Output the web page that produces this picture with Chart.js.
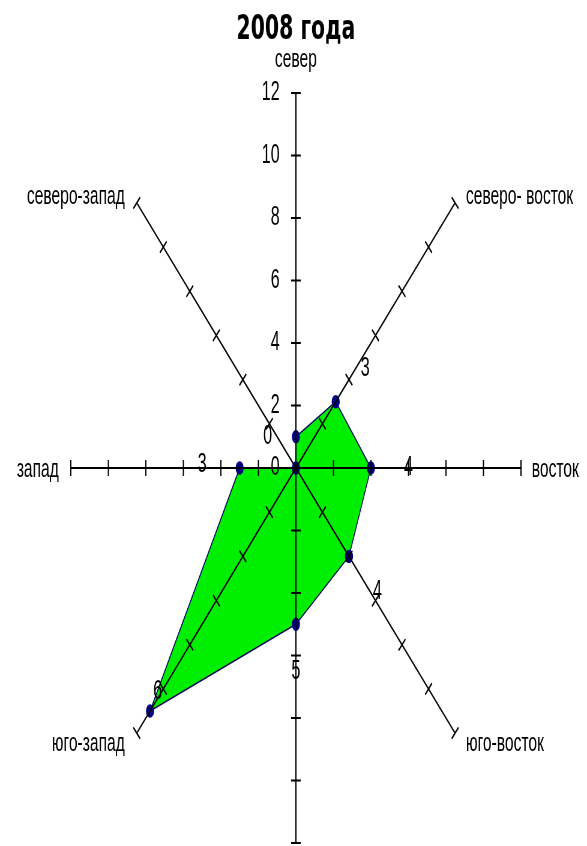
<!DOCTYPE html>
<html>
<head>
<meta charset="utf-8">
<script src="https://cdn.jsdelivr.net/npm/chart.js@4/dist/chart.umd.min.js"></script>
<style>
  html, body { margin: 0; padding: 0; background: #fff; }
  /* the source picture is squeezed horizontally, so the canvas is drawn wide and shown narrow */
  #rose { display: block; width: 587px; height: 846px; }
</style>
</head>
<body>
<canvas id="rose" width="978" height="846" style="width:587px;height:846px"></canvas>
<script>
// wind directions, clockwise from north
const directions = ["север", "северо- восток", "восток", "юго-восток", "юг", "юго-запад", "запад", "северо-запад"];
// number of days with wind from each direction
const windValues = [1, 3, 4, 4, 5, 11, 3, 0];
// ticks on the axes
const tickValues = [0, 2, 4, 6, 8, 10, 12];
// stray numbers printed along the axes in the original
const valueLabels = ["0", "3", "4", "4", "5", "6", "3", ""];

const FONT = "'Liberation Sans', Arial, sans-serif";

// tick marks, tick numbers, axis names and the stray numbers
const axisDecor = {
  id: "axisDecor",
  afterDraw(chart, args, opts) {
    const r = chart.scales.r;
    const ctx = chart.ctx;
    const n = chart.data.labels.length;
    ctx.save();
    ctx.strokeStyle = "#000";
    ctx.lineWidth = 2;

    // small cross marks on every spoke
    for (let i = 0; i < n; i++) {
      const a = r.getIndexAngle(i) - Math.PI / 2;
      const ux = Math.cos(a), uy = Math.sin(a);
      tickValues.forEach(v => {
        if (v === 0) return;
        const p = r.getPointPosition(i, r.getDistanceFromCenterForValue(v));
        ctx.beginPath();
        ctx.moveTo(p.x - uy * opts.tickLen, p.y + ux * opts.tickLen);
        ctx.lineTo(p.x + uy * opts.tickLen, p.y - ux * opts.tickLen);
        ctx.stroke();
      });
    }

    // numbers on the north spoke
    ctx.fillStyle = "#000";
    ctx.font = "27px " + FONT;
    ctx.textAlign = "right";
    ctx.textBaseline = "middle";
    tickValues.forEach(v => {
      const p = r.getPointPosition(0, r.getDistanceFromCenterForValue(v));
      ctx.fillText(String(v), p.x - 27, p.y);
    });

    // stray numbers
    ctx.textAlign = "center";
    opts.spots.forEach((s, i) => {
      if (!s || !valueLabels[i]) return;
      const p = r.getPointPosition(i, r.getDistanceFromCenterForValue(s.v));
      ctx.fillText(valueLabels[i], p.x + s.dx, p.y + s.dy);
    });

    // direction names at the spoke ends
    ctx.font = "26px " + FONT;
    for (let i = 0; i < n; i++) {
      const a = r.getIndexAngle(i) - Math.PI / 2;
      const ux = Math.cos(a), uy = Math.sin(a);
      const p = r.getPointPosition(i, r.drawingArea);
      let x = p.x, y = p.y;
      if (Math.abs(ux) < 0.01) {
        ctx.textAlign = "center";
        y += uy < 0 ? -33 : 34;
      } else {
        ctx.textAlign = ux > 0 ? "left" : "right";
        x += ux > 0 ? 18 : -20;
        if (uy < -0.5) y -= 6;
        else if (uy > 0.5) y += 11;
        else y += 2;
      }
      ctx.fillText(chart.data.labels[i], x, y);
    }
    ctx.restore();
  }
};

new Chart(document.getElementById("rose"), {
  type: "radar",
  data: {
    labels: directions,
    datasets: [{
      label: "2008",
      data: windValues,
      fill: true,
      backgroundColor: "#00ee00",
      borderColor: "#000060",
      borderWidth: 1.5,
      pointRadius: 6,
      pointBackgroundColor: "#000080",
      pointBorderColor: "#000080",
      tension: 0
    }]
  },
  options: {
    responsive: false,
    animation: false,
    devicePixelRatio: 1,
    layout: { padding: { left: 8, right: 0, top: 0, bottom: 2 } },
    scales: {
      r: {
        min: 0,
        max: 12,
        ticks: { display: false, stepSize: 2 },
        grid: { display: false, z: 1 },
        angleLines: { display: true, color: "#000", lineWidth: 2 },
        pointLabels: { display: false }
      }
    },
    plugins: {
      legend: { display: false },
      tooltip: { enabled: false },
      title: {
        display: true,
        text: "2008 года",
        color: "#000",
        font: { family: "'DejaVu Sans', sans-serif", size: 34, weight: "bold" },
        padding: { top: 10, bottom: 43 }
      },
      axisDecor: {
        tickLen: 8,
        spots: [
          { v: 1, dx: -47, dy: 0 },
          { v: 4.5, dx: 16, dy: 0 },
          { v: 6, dx: 0, dy: 0 },
          { v: 5.6, dx: 12, dy: 0 },
          { v: 6.5, dx: 0, dy: 0 },
          { v: 10.1, dx: -7, dy: 0 },
          { v: 5, dx: 0, dy: -3 },
          null
        ]
      }
    }
  },
  plugins: [axisDecor]
});
</script>
</body>
</html>
